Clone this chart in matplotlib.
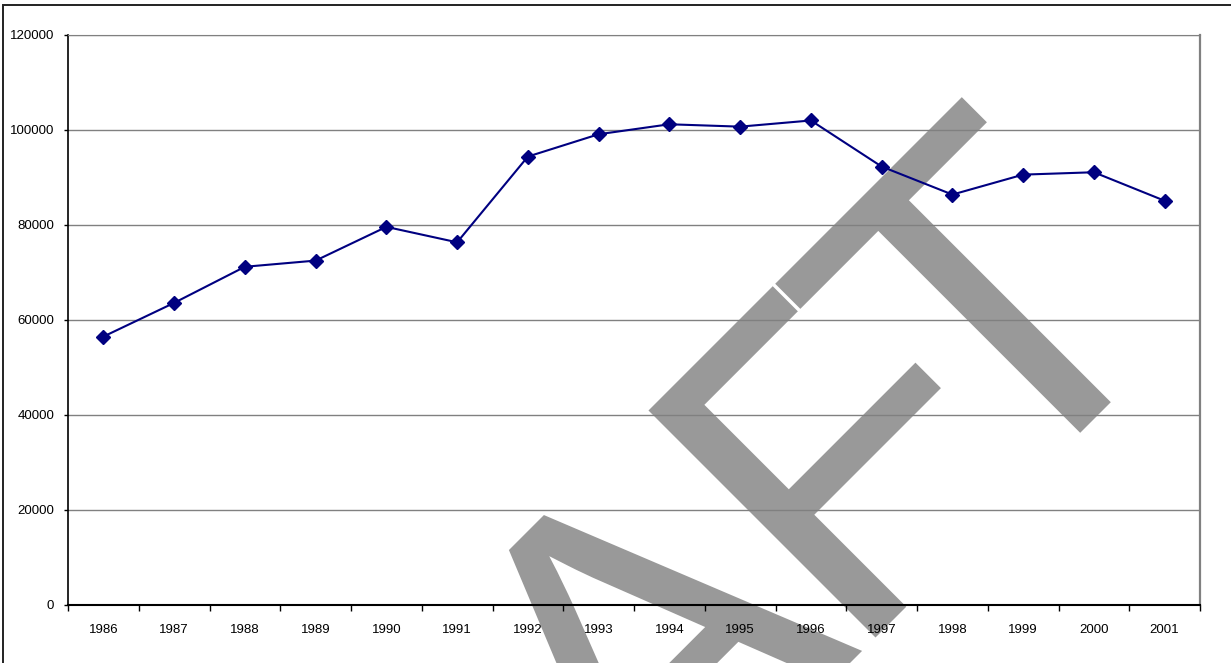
import numpy as np
import matplotlib
matplotlib.use("Agg")
import matplotlib.pyplot as plt
import matplotlib.patheffects as pe
from matplotlib.patches import Rectangle

plt.rcParams['font.family'] = ['Liberation Sans', 'DejaVu Sans']

# yearly totals
years = ['1986', '1987', '1988', '1989', '1990', '1991', '1992', '1993',
         '1994', '1995', '1996', '1997', '1998', '1999', '2000', '2001']
values = [56400, 63500, 71100, 72400, 79500, 76250, 94300, 99000,
          101100, 100600, 101900, 92200, 86300, 90500, 91000, 85000]
y_ticks = [0, 20000, 40000, 60000, 80000, 100000, 120000]

W, H = 1231, 663
fig = plt.figure(figsize=(W / 100, H / 100), dpi=100)
fig.patch.set_facecolor('white')

# outer chart frame (runs off the right and bottom edges)
fig.patches.append(Rectangle((3 / W, -0.05), 1.1, (H - 5) / H + 0.05,
                             transform=fig.transFigure, fill=False,
                             edgecolor='#222222', linewidth=1.4, zorder=0))

ax = fig.add_axes([68 / W, (H - 604.5) / H, (1200 - 68) / W, (604.5 - 34.5) / H])
ax.patch.set_visible(False)  # let the watermark show under the grid
x = np.arange(len(years))
ax.plot(x, values, color='#000080', linewidth=1.5, marker='D',
        markersize=7.5, markerfacecolor='#000080', markeredgecolor='#000080',
        zorder=3)

ax.set_xlim(-0.5, len(years) - 0.5)
ax.set_ylim(0, 120000)
ax.set_yticks(y_ticks)
ax.set_yticklabels([str(v) for v in y_ticks])
ax.yaxis.grid(True, color='#808080', linewidth=1.0)
ax.set_axisbelow(True)

# category boundaries get the tick marks, centres get the labels
ax.set_xticks(np.arange(-0.5, len(years)))
ax.set_xticklabels([])
ax.set_xticks(x, minor=True)
ax.set_xticklabels(years, minor=True)
ax.tick_params(axis='x', which='major', direction='out', length=4, width=1, color='black')
ax.tick_params(axis='x', which='minor', length=0, pad=14, labelsize=9.5)
ax.tick_params(axis='y', direction='out', length=3, width=1, color='black',
               pad=7, labelsize=9.5)

ax.spines['left'].set_color('black')
ax.spines['bottom'].set_color('black')
ax.spines['left'].set_linewidth(1.2)
ax.spines['bottom'].set_linewidth(1.5)
ax.spines['top'].set_color('#808080')
ax.spines['right'].set_color('#808080')
ax.spines['right'].set_linewidth(1.6)

# diagonal watermark, one letter at a time along a 45 degree baseline,
# drawn beneath the axes so grid, line and labels stay on top
mark_letters = list("DRAFT")
mark_offsets = [-833, -497, -161, 130, 337]
base = 1513
for ch, s in zip(mark_letters, mark_offsets):
    px = (base + s * np.sqrt(2)) / 2
    py = (base - s * np.sqrt(2)) / 2
    fig.text(px / W, (H - py) / H, ch, fontsize=336, rotation=45,
             rotation_mode='anchor', ha='left', va='baseline',
             color='#999999', zorder=-1,
             path_effects=[pe.Stroke(linewidth=5, foreground='white'), pe.Normal()])

fig.savefig('out.png', dpi=100)
